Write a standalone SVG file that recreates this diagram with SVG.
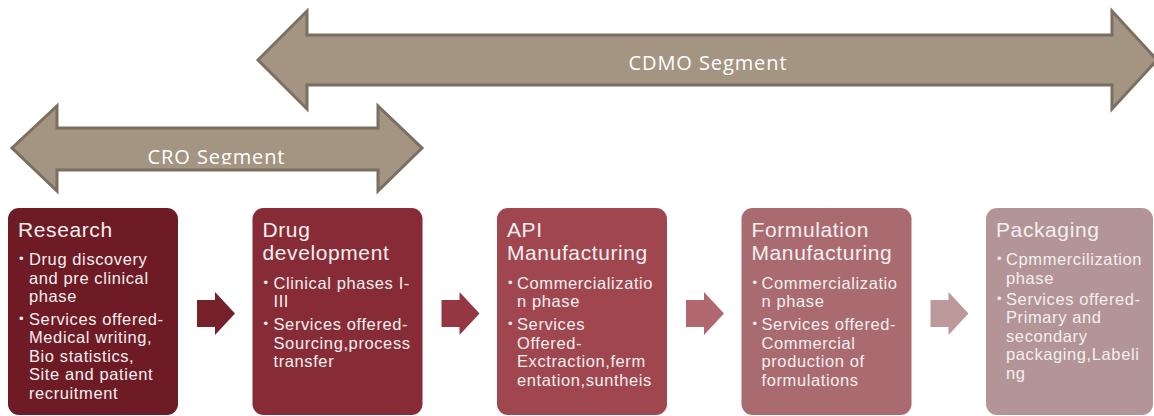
<svg xmlns="http://www.w3.org/2000/svg" width="1154" height="416" viewBox="0 0 1154 416">
  <style>
    .seg { fill: #A49482; stroke: #7B6F60; stroke-width: 3; stroke-linejoin: miter; }
    .segtxt { font-family: "Open Sans", "Liberation Sans", sans-serif; font-size: 20px; fill: #FFFFFF; letter-spacing: 0.9px; text-anchor: middle; }
    .title { font-family: "Liberation Sans", Arial, sans-serif; font-size: 21px; fill: #F4EFEF; letter-spacing: 0.6px; }
    .body { font-family: "Liberation Sans", Arial, sans-serif; font-size: 16.5px; fill: #F4EFEF; letter-spacing: 0.6px; }
    .bul { font-family: "Liberation Sans", Arial, sans-serif; font-size: 13px; fill: #F4EFEF; }
  </style>
  <defs>
    <clipPath id="croClip">
      <rect x="0" y="100" width="460" height="64.5"/>
    </clipPath>
  </defs>

  <g id="cdmo-segment">
    <path class="seg" d="M258,60 L307,11 L307,35 L1112,35 L1112,11 L1157,60 L1112,109 L1112,85 L307,85 L307,109 Z"/>
    <text class="segtxt" x="708" y="69.5">CDMO Segment</text>
  </g>

  <g id="cro-segment">
    <path class="seg" d="M12,148 L57,106 L57,128 L378,128 L378,106 L422,148 L378,191 L378,170 L57,170 L57,191 Z"/>
    <text class="segtxt" x="216.5" y="163.5" clip-path="url(#croClip)">CRO Segment</text>
  </g>

  <g id="connectors">
    <path d="M197,300 L215,300 L215,292 L235,313.5 L215,335 L215,327 L197,327 Z" fill="#76202A"/>
    <path d="M441.5,300 L459.5,300 L459.5,292 L479.5,313.5 L459.5,335 L459.5,327 L441.5,327 Z" fill="#943742"/>
    <path d="M686,300 L704,300 L704,292 L724,313.5 L704,335 L704,327 L686,327 Z" fill="#B0676E"/>
    <path d="M930.5,300 L948.5,300 L948.5,292 L968.5,313.5 L948.5,335 L948.5,327 L930.5,327 Z" fill="#BC9A9C"/>
  </g>

  <g id="research">
    <rect x="8" y="208" width="170" height="207" rx="11" fill="#6E1B25"/>
    <text class="title" x="18" y="237">Research</text>
    <text class="bul" x="19" y="263">•</text>
    <text class="body" x="29" y="265">Drug discovery</text>
    <text class="body" x="29" y="283.5">and pre clinical</text>
    <text class="body" x="29" y="302">phase</text>
    <text class="bul" x="19" y="322.5">•</text>
    <text class="body" x="29" y="324.5">Services offered-</text>
    <text class="body" x="29" y="343">Medical writing,</text>
    <text class="body" x="29" y="361.5">Bio statistics,</text>
    <text class="body" x="29" y="380">Site and patient</text>
    <text class="body" x="29" y="398.5">recruitment</text>
  </g>

  <g id="drug-development">
    <rect x="252.5" y="208" width="170" height="207" rx="11" fill="#872C36"/>
    <text class="title" x="262.5" y="237">Drug</text>
    <text class="title" x="262.5" y="260">development</text>
    <text class="bul" x="263.5" y="286.5">•</text>
    <text class="body" x="273.5" y="288.5">Clinical phases I-</text>
    <text class="body" x="273.5" y="307">III</text>
    <text class="bul" x="263.5" y="328">•</text>
    <text class="body" x="273.5" y="330">Services offered-</text>
    <text class="body" x="273.5" y="348.5">Sourcing,process</text>
    <text class="body" x="273.5" y="367">transfer</text>
  </g>

  <g id="api-manufacturing">
    <rect x="497" y="208" width="170" height="207" rx="11" fill="#A0464F"/>
    <text class="title" x="507" y="237">API</text>
    <text class="title" x="507" y="260">Manufacturing</text>
    <text class="bul" x="508" y="286.5">•</text>
    <text class="body" x="517" y="288.5">Commercializatio</text>
    <text class="body" x="517" y="307">n phase</text>
    <text class="bul" x="508" y="328">•</text>
    <text class="body" x="517" y="330">Services</text>
    <text class="body" x="517" y="348.5">Offered-</text>
    <text class="body" x="517" y="367">Exctraction,ferm</text>
    <text class="body" x="517" y="385.5">entation,suntheis</text>
  </g>

  <g id="formulation-manufacturing">
    <rect x="741.5" y="208" width="170" height="207" rx="11" fill="#A96B70"/>
    <text class="title" x="751.5" y="237">Formulation</text>
    <text class="title" x="751.5" y="260">Manufacturing</text>
    <text class="bul" x="752.5" y="286.5">•</text>
    <text class="body" x="761.5" y="288.5">Commercializatio</text>
    <text class="body" x="761.5" y="307">n phase</text>
    <text class="bul" x="752.5" y="328">•</text>
    <text class="body" x="761.5" y="330">Services offered-</text>
    <text class="body" x="761.5" y="348.5">Commercial</text>
    <text class="body" x="761.5" y="367">production of</text>
    <text class="body" x="761.5" y="385.5">formulations</text>
  </g>

  <g id="packaging">
    <rect x="986" y="208" width="167" height="207" rx="11" fill="#B39597"/>
    <text class="title" x="996" y="237">Packaging</text>
    <text class="bul" x="997" y="263">•</text>
    <text class="body" x="1006" y="265">Cpmmercilization</text>
    <text class="body" x="1006" y="283.5">phase</text>
    <text class="bul" x="997" y="302.5">•</text>
    <text class="body" x="1006" y="304.5">Services offered-</text>
    <text class="body" x="1006" y="323">Primary and</text>
    <text class="body" x="1006" y="341.5">secondary</text>
    <text class="body" x="1006" y="360">packaging,Labeli</text>
    <text class="body" x="1006" y="378.5">ng</text>
  </g>
</svg>
